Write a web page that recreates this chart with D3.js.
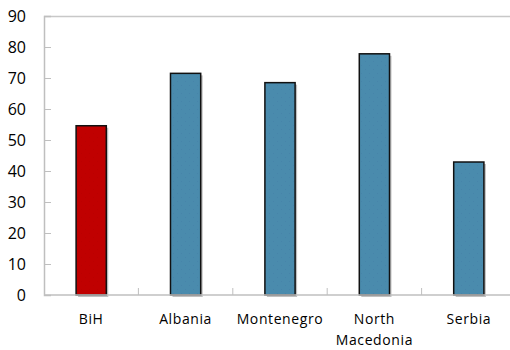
<!DOCTYPE html>
<html>
<head>
<meta charset="utf-8">
<script src="https://cdn.jsdelivr.net/npm/d3@7"></script>
<style>
  body { margin: 0; background: #fff; }
  text { font-family: "Open Sans", "Noto Sans", sans-serif; fill: #000; }
</style>
</head>
<body>
<div id="chart"></div>
<script>
var categories = ['BiH', 'Albania', 'Montenegro', 'North Macedonia', 'Serbia'];
var values = [54.6, 71.5, 68.5, 77.8, 42.9];
var barColors = ['#c00000', '#4a8bad', '#4a8bad', '#4a8bad', '#4a8bad'];
var yTicks = [0, 10, 20, 30, 40, 50, 60, 70, 80, 90];

var width = 510,
    height = 350,
    margin = {top: 16, right: -6, bottom: 55, left: 44};

var svg = d3.select('#chart')
  .append('svg')
  .attr('width', width)
  .attr('height', height);

var x = d3.scaleBand()
  .domain(categories)
  .range([margin.left, width - margin.right])
  .paddingInner(0.68)
  .paddingOuter(0.34);

var y = d3.scaleLinear()
  .domain([0, 90])
  .range([height - margin.bottom, margin.top]);

// faint dot texture on the bars
var defs = svg.append('defs');
function dotPattern(id, base, dot) {
  var p = defs.append('pattern')
    .attr('id', id)
    .attr('width', 8).attr('height', 8)
    .attr('patternUnits', 'userSpaceOnUse');
  p.append('rect').attr('width', 8).attr('height', 8).attr('fill', base);
  p.append('rect').attr('x', 1).attr('y', 1).attr('width', 1).attr('height', 1).attr('fill', dot);
  p.append('rect').attr('x', 5).attr('y', 5).attr('width', 1).attr('height', 1).attr('fill', dot);
}
dotPattern('dots-blue', barColors[1], '#4784aa');
dotPattern('dots-red', barColors[0], '#bb0000');

// top border line
svg.append('line')
  .attr('x1', margin.left).attr('x2', width)
  .attr('y1', y(90) + 0.5).attr('y2', y(90) + 0.5)
  .attr('stroke', '#c8c8c8').attr('stroke-width', 1.5);

// y axis
var yAxis = svg.append('g')
  .attr('transform', 'translate(' + margin.left + ',0)')
  .call(d3.axisLeft(y).tickValues(yTicks).tickSize(-7).tickPadding(25));
yAxis.select('.domain').attr('stroke', '#bfbfbf').attr('stroke-width', 1.5);
yAxis.selectAll('.tick line').attr('stroke', '#bfbfbf').attr('stroke-width', 1);
yAxis.selectAll('.tick text')
  .attr('font-size', 16)
  .attr('text-anchor', 'end')
  .attr('x', -18)
  .style('font-family', '"Open Sans", "Noto Sans", sans-serif');

// bars: shadow first, then the bar itself
var bars = svg.selectAll('.bar')
  .data(categories)
  .enter()
  .append('g')
  .attr('class', 'bar');

bars.append('rect')
  .attr('x', function(d) { return x(d) + 2; })
  .attr('y', function(d, i) { return y(values[i]) + 2; })
  .attr('width', x.bandwidth())
  .attr('height', function(d, i) { return y(0) - y(values[i]); })
  .attr('fill', '#a6a6a6')
  .attr('opacity', 0.7);

bars.append('rect')
  .attr('x', function(d) { return x(d); })
  .attr('y', function(d, i) { return y(values[i]); })
  .attr('width', x.bandwidth())
  .attr('height', function(d, i) { return y(0) - y(values[i]); })
  .attr('fill', function(d, i) { return i === 0 ? 'url(#dots-red)' : 'url(#dots-blue)'; })
  .attr('stroke', '#111')
  .attr('stroke-width', 1.5);

// x axis
var xAxis = svg.append('g')
  .attr('transform', 'translate(0,' + y(0) + ')');
xAxis.append('line')
  .attr('x1', margin.left).attr('x2', width)
  .attr('stroke', '#bfbfbf').attr('stroke-width', 1.5);
xAxis.selectAll('.sep')
  .data(categories.slice(1))
  .enter()
  .append('line')
  .attr('x1', function(d) { return x(d) - x.step() * x.paddingInner() / 2; })
  .attr('x2', function(d) { return x(d) - x.step() * x.paddingInner() / 2; })
  .attr('y1', 0).attr('y2', -7)
  .attr('stroke', '#bfbfbf').attr('stroke-width', 1);

var labels = xAxis.selectAll('.lbl')
  .data(categories)
  .enter()
  .append('text')
  .attr('text-anchor', 'middle')
  .attr('font-size', 14)
  .attr('letter-spacing', 0.6)
  .attr('x', function(d) { return x(d) + x.bandwidth() / 2; })
  .attr('y', 29);

labels.each(function(d) {
  var words = d === 'North Macedonia' ? ['North', 'Macedonia'] : [d];
  var t = d3.select(this);
  words.forEach(function(w, k) {
    t.append('tspan')
      .attr('x', t.attr('x'))
      .attr('dy', k === 0 ? 0 : 21)
      .text(w);
  });
});
</script>
</body>
</html>
